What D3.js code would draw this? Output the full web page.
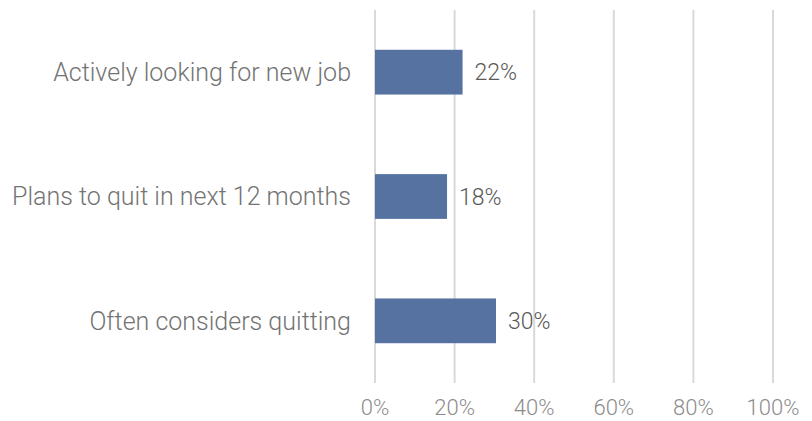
<!DOCTYPE html>
<html>
<head>
<meta charset="utf-8">
<script src="https://cdn.jsdelivr.net/npm/d3@7"></script>
<style>
	body { margin: 0; background: #fff; }
	text { font-family: Roboto, "Liberation Sans", Arial, sans-serif; font-weight: 300; }
</style>
</head>
<body>
<div id="chart"></div>
<script>
const categories = ["Actively looking for new job", "Plans to quit in next 12 months", "Often considers quitting"];
const values = [22.0, 18.1, 30.4];
const valueLabels = ["22%", "18%", "30%"];
const ticks = [0, 20, 40, 60, 80, 100];

const margin = { top: 10, right: 39, bottom: 38, left: 375 };
const W = 812, H = 421;
const width = W - margin.left - margin.right;
const height = H - margin.top - margin.bottom;

const svg = d3.select("#chart")
	.append("svg")
	.attr("width", W)
	.attr("height", H)
	.append("g")
	.attr("transform", `translate(${margin.left},${margin.top})`);

const x = d3.scaleLinear().domain([0, 100]).range([0, width]);
const y = d3.scaleBand().domain(categories).range([0, height]).paddingInner(0.64).paddingOuter(0.32);

// gridlines
svg.selectAll(".grid")
	.data(ticks)
	.enter().append("line")
	.attr("x1", d => x(d))
	.attr("x2", d => x(d))
	.attr("y1", 0)
	.attr("y2", height)
	.attr("stroke", "#d9d9d9")
	.attr("stroke-width", 2);

// x tick labels
svg.selectAll(".tick-label")
	.data(ticks)
	.enter().append("text")
	.attr("x", d => x(d))
	.attr("y", height + 32)
	.attr("text-anchor", "middle")
	.attr("font-size", 22)
	.attr("fill", "#8c8c8c")
	.text(d => d + "%");

// category labels
svg.selectAll(".cat")
	.data(categories)
	.enter().append("text")
	.attr("x", -24)
	.attr("y", d => y(d) + y.bandwidth() / 2)
	.attr("dy", "0.35em")
	.attr("text-anchor", "end")
	.attr("font-size", 25)
	.attr("fill", "#737373")
	.text(d => d);

// bars
svg.selectAll(".bar")
	.data(values)
	.enter().append("rect")
	.attr("x", x(0))
	.attr("y", (d, i) => y(categories[i]))
	.attr("width", d => x(d) - x(0))
	.attr("height", y.bandwidth())
	.attr("fill", "#5572a0");

// value labels
svg.selectAll(".val")
	.data(values)
	.enter().append("text")
	.attr("x", d => x(d) + 12)
	.attr("y", (d, i) => y(categories[i]) + y.bandwidth() / 2)
	.attr("dy", "0.35em")
	.attr("font-size", 23)
	.attr("fill", "#595959")
	.text((d, i) => valueLabels[i]);
</script>
</body>
</html>
